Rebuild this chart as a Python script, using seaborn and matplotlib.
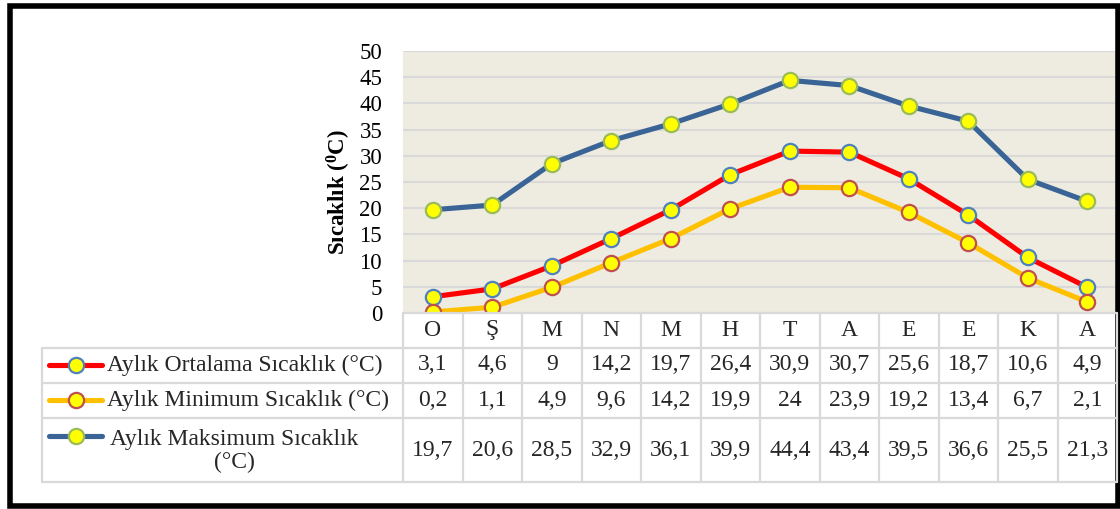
import matplotlib
matplotlib.use("Agg")
import matplotlib.pyplot as plt
from matplotlib.patches import Rectangle
from matplotlib.lines import Line2D
from matplotlib.transforms import blended_transform_factory
import seaborn as sns

# Data
months = ["O", "Ş", "M", "N", "M", "H", "T", "A", "E", "E", "K", "A"]
ortalama = [3.1, 4.6, 9, 14.2, 19.7, 26.4, 30.9, 30.7, 25.6, 18.7, 10.6, 4.9]
minimum = [0.2, 1.1, 4.9, 9.6, 14.2, 19.9, 24, 23.9, 19.2, 13.4, 6.7, 2.1]
maksimum = [19.7, 20.6, 28.5, 32.9, 36.1, 39.9, 44.4, 43.4, 39.5, 36.6, 25.5, 21.3]
series_names = ["Aylık Ortalama Sıcaklık (°C)",
                "Aylık Minimum Sıcaklık (°C)",
                "Aylık Maksimum Sıcaklık\n(°C)"]

# styles: line colour, marker edge colour
styles = [("#FF0000", "#4F81BD"), ("#FFC000", "#C0504D"), ("#3A6396", "#9BBB59")]
series = [ortalama, minimum, maksimum]

sns.set_theme(style="white")
plt.rcParams["font.family"] = ["Liberation Serif", "DejaVu Serif"]
plt.rcParams["mathtext.fontset"] = "custom"
plt.rcParams["mathtext.rm"] = "Liberation Serif"
plt.rcParams["mathtext.bf"] = "Liberation Serif:bold"

FS = 17  # table / legend text size

W, H = 1120, 509
fig = plt.figure(figsize=(W / 100, H / 100), dpi=100)
fig.patch.set_facecolor("white")

# plot area in pixel positions
px_l, px_r, px_t, px_b = 403, 1117, 51, 313
ax = fig.add_axes([px_l / W, 1 - px_b / H, (px_r - px_l) / W, (px_b - px_t) / H])
ax.set_facecolor("#EEECE1")

x = list(range(len(months)))
for vals, (lc, ec) in zip(series, styles):
    sns.lineplot(x=x, y=vals, ax=ax, color=lc, linewidth=3.7, marker="o",
                 markersize=11, markerfacecolor="#FFFF00", markeredgecolor=ec,
                 markeredgewidth=1.6, zorder=3)

ax.set_xlim(-0.5, len(months) - 0.5)
ax.set_ylim(0, 50)
ax.set_yticks(range(0, 51, 5))
ax.set_xticks([])
ax.grid(axis="y", color="#D9D9D9", linewidth=1.5)
ax.set_axisbelow(True)
for s in ax.spines.values():
    s.set_visible(False)
ax.tick_params(axis="y", length=0, pad=15, labelsize=16.5, labelcolor="black")
ax.set_ylabel(r"Sıcaklık ($\mathbf{^{0}}$C)", fontsize=16.5, fontweight="bold", color="black")
ax.yaxis.set_label_coords((353 - px_l) / (px_r - px_l), (px_b - 192) / (px_b - px_t))

# overlay in pixel coordinates for the data table and frame
ov = fig.add_axes([0, 0, 1, 1], facecolor="none")
ov.set_xlim(0, W)
ov.set_ylim(H, 0)
ov.axis("off")
tr = blended_transform_factory(ax.transData, ov.transData)

grid_c = "#D9D9D9"
rows_y = [313, 347.5, 382.5, 418, 481.5]
# vertical cell lines
for i in range(len(months) + 1):
    ov.add_line(Line2D([i - 0.5, i - 0.5], [rows_y[0], rows_y[-1]], transform=tr,
                       color=grid_c, lw=1.6, clip_on=False))
ov.add_line(Line2D([42, 42], [rows_y[1], rows_y[-1]], color=grid_c, lw=1.6))
# horizontal lines
ov.add_line(Line2D([-0.5, len(months) - 0.5], [rows_y[0], rows_y[0]], transform=tr,
                   color=grid_c, lw=1.6, clip_on=False))
for yy in rows_y[1:]:
    ov.add_line(Line2D([42, px_r], [yy, yy], color=grid_c, lw=1.6))

# category row
for i, m in enumerate(months):
    ov.text(i, 330, m, transform=tr, ha="center", va="center", fontsize=FS)

# value rows with legend keys
row_centers = [365, 400, 450]
for r, (vals, (lc, ec), name) in enumerate(zip(series, styles, series_names)):
    yc = row_centers[r]
    for i, v in enumerate(vals):
        ov.text(i, yc, f"{v:g}".replace(".", ","), transform=tr,
                ha="center", va="center", fontsize=FS)
    ky = yc if r < 2 else 436
    ov.add_line(Line2D([49, 102], [ky, ky], color=lc, lw=3.7, solid_capstyle="round"))
    ov.add_line(Line2D([76], [ky], marker="o", markersize=11, markerfacecolor="#FFFF00",
                       markeredgecolor=ec, markeredgewidth=1.6, linestyle="none"))
    if r < 2:
        ov.text(107, yc, name, ha="left", va="center", fontsize=FS)
    else:
        ov.text(234, yc + 1, name, ha="center", va="center", fontsize=FS,
                multialignment="center", linespacing=1.1)

# outer black frame
ov.add_patch(Rectangle((10, 5.5), 1108, 500.5, fill=False, edgecolor="black",
                       linewidth=4, clip_on=False))

fig.savefig("out.png", dpi=100)
